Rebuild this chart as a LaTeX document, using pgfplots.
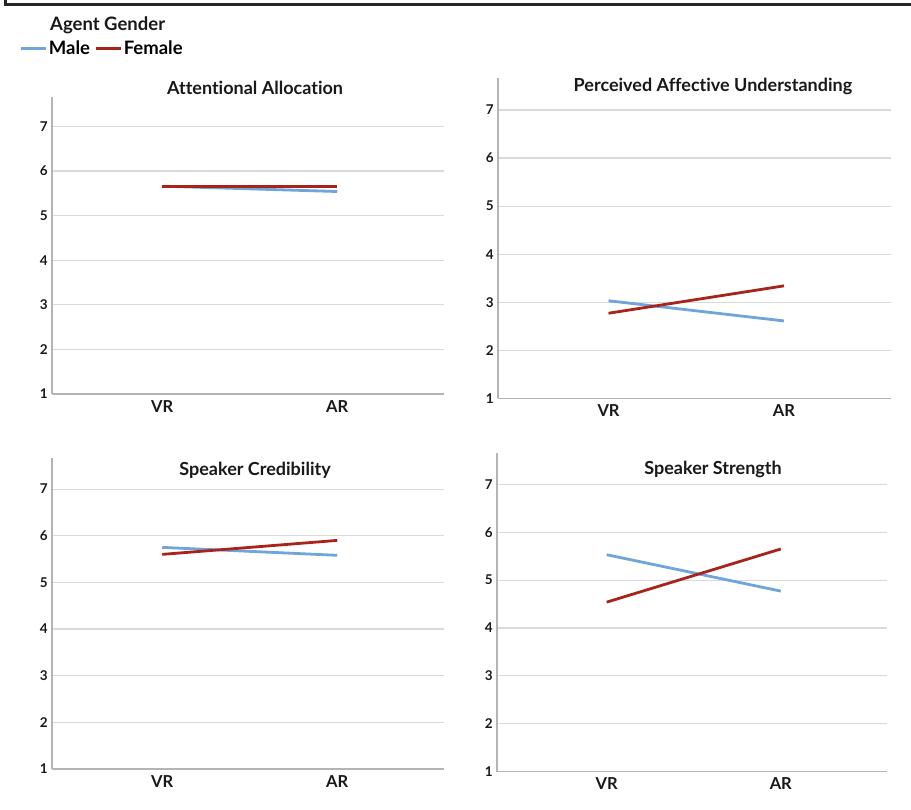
\documentclass[border=0pt]{standalone}
\usepackage{fontspec}
\setmainfont{Lato}[Ligatures=NoCommon]
\usepackage{pgfplots}
\pgfplotsset{compat=1.18}
\definecolor{maleblue}{HTML}{6FA5DA}
\definecolor{femred}{HTML}{A8241A}
\definecolor{axgray}{HTML}{B4B4B4}
\definecolor{gridgray}{HTML}{D9D9D9}
\tikzset{ptitle/.style={font=\fontsize{18}{20}\selectfont\bfseries, text=black!90}}
\pgfplotsset{panel/.style={
  scale only axis,
  anchor=south west,
  xmin=-0.63, xmax=1.61, ymin=1, ymax=7.66,
  axis x line*=bottom, axis y line*=left,
  axis line style={axgray, line width=1.3pt},
  xtick={0,1}, xticklabels={VR,AR}, ytick={1,2,3,4,5,6,7},
  major tick length=0pt,
  ymajorgrids, grid style={gridgray, line width=1.1pt},
  /pgf/number format/assume math mode=true,
  yticklabel style={font=\fontsize{13.5}{15}\selectfont\bfseries, text=black!90, inner sep=0pt, xshift=-4pt},
  xticklabel style={font=\fontsize{16.5}{18}\selectfont\bfseries, text=black!90, inner sep=0pt, yshift=-6pt},
  clip=false,
}}
\begin{document}
\begin{tikzpicture}
\useasboundingbox (0pt,0pt) rectangle (911pt,810pt);
\draw[line width=2.2pt, black!85] (5.5pt,810pt) -- (5.5pt,805.5pt) -- (911pt,805.5pt);
% Panel 1
\begin{axis}[panel, at={(52pt,416pt)}, width=392pt, height=297pt,
  legend style={at={(-0.082,1.162)}, anchor=west, draw=none, fill=none,
    font=\fontsize{18.5}{20}\selectfont\bfseries, legend columns=2,
    /tikz/every even column/.append style={column sep=4pt},
    inner sep=0pt, nodes={inner sep=1pt}},
  legend image code/.code={\draw[#1, line width=2.8pt] (0pt,0pt) -- (25pt,0pt);},
  legend image post style={line width=2.8pt},
  ]
\addplot[maleblue, line width=2.8pt] coordinates {(0,5.66) (1,5.54)};
\addplot[femred, line width=2.8pt] coordinates {(0,5.65) (1,5.65)};
\legend{Male,Female}
\node[ptitle] at (axis description cs:0.518,1.03) {Attentional Allocation};
\node[ptitle, anchor=west, inner sep=0pt, font=\fontsize{18.5}{20}\selectfont\bfseries] at (axis description cs:-0.005,1.242) {Agent Gender};
\end{axis}
% Panel 2
\begin{axis}[panel, at={(498pt,411.7pt)}, width=393pt, height=320pt]
\addplot[maleblue, line width=2.8pt] coordinates {(0,3.03) (1,2.61)};
\addplot[femred, line width=2.8pt] coordinates {(0,2.77) (1,3.34)};
\node[ptitle] at (axis description cs:0.547,0.973) {Perceived Affective Understanding};
\end{axis}
% Panel 3
\begin{axis}[panel, at={(52pt,41pt)}, width=392pt, height=310.7pt]
\addplot[maleblue, line width=2.8pt] coordinates {(0,5.75) (1,5.58)};
\addplot[femred, line width=2.8pt] coordinates {(0,5.60) (1,5.90)};
\node[ptitle] at (axis description cs:0.518,0.962) {Speaker Credibility};
\end{axis}
% Panel 4
\begin{axis}[panel, at={(497pt,38.3pt)}, width=390pt, height=319pt]
\addplot[maleblue, line width=2.8pt] coordinates {(0,5.53) (1,4.77)};
\addplot[femred, line width=2.8pt] coordinates {(0,4.54) (1,5.65)};
\node[ptitle] at (axis description cs:0.554,0.946) {Speaker Strength};
\end{axis}
\end{tikzpicture}
\end{document}
